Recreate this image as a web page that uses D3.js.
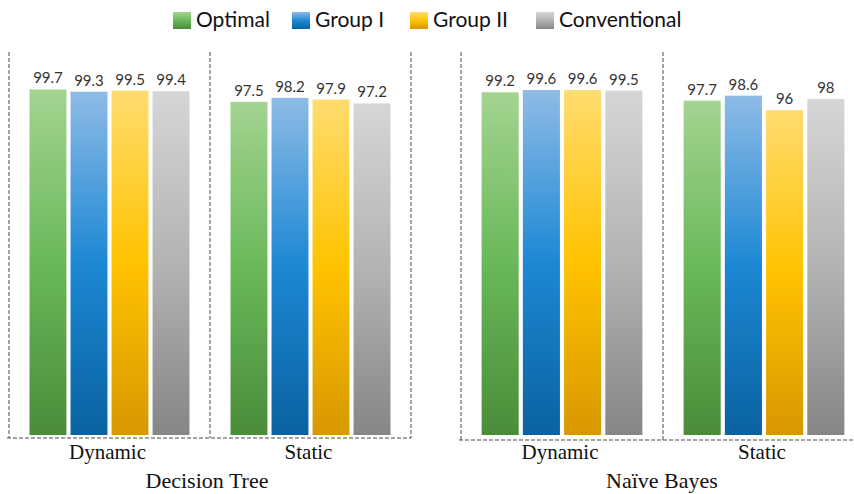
<!DOCTYPE html>
<html>
<head>
<meta charset="utf-8">
<script src="https://cdn.jsdelivr.net/npm/d3@7"></script>
<style>
  html, body { margin: 0; padding: 0; background: #fff; }
  svg { display: block; }
</style>
</head>
<body>
<svg id="chart" width="854" height="494"></svg>
<script>
// Accuracy (%) per classifier, analysis type and feature set
const classifiers = ["Decision Tree", "Naïve Bayes"];
const analyses = ["Dynamic", "Static"];
const seriesNames = ["Optimal", "Group I", "Group II", "Conventional"];

const decisionTreeDynamic = [99.7, 99.3, 99.5, 99.4];
const decisionTreeStatic = [97.5, 98.2, 97.9, 97.2];
const naiveBayesDynamic = [99.2, 99.6, 99.6, 99.5];
const naiveBayesStatic = [97.7, 98.6, 96, 98];

const valueLabels = [
  ["99.7", "99.3", "99.5", "99.4"],
  ["97.5", "98.2", "97.9", "97.2"],
  ["99.2", "99.6", "99.6", "99.5"],
  ["97.7", "98.6", "96", "98"]
];

const yMin = 38;
const yMax = 100;

// series colour stops: light top, saturated middle, dark bottom
const seriesColors = [
  ["#a3d491", "#6ab85a", "#4a8c3a"],
  ["#8ebbe6", "#1c88d4", "#0a62a0"],
  ["#ffdc70", "#ffc300", "#d89800"],
  ["#d6d6d6", "#b3b3b3", "#868686"]
];

const panelData = [
  [decisionTreeDynamic, decisionTreeStatic],
  [naiveBayesDynamic, naiveBayesStatic]
];

const svg = d3.select("#chart");
const defs = svg.append("defs");

seriesColors.forEach((c, i) => {
  const g = defs.append("linearGradient")
    .attr("id", "grad" + i)
    .attr("x1", 0).attr("y1", 0).attr("x2", 0).attr("y2", 1);
  g.append("stop").attr("offset", "0%").attr("stop-color", c[0]);
  g.append("stop").attr("offset", "50%").attr("stop-color", c[1]);
  g.append("stop").attr("offset", "100%").attr("stop-color", c[2]);
});

const baseY = 435;
const y = d3.scaleLinear().domain([yMin, yMax]).range([baseY, 87.8]);

const panelScale = d3.scaleOrdinal().domain(classifiers).range([[9, 411], [461, 865]]);
const frameBottom = { "Decision Tree": 438, "Naïve Bayes": 440 };
const frameTop = 52;

classifiers.forEach((clf, pi) => {
  const range = panelScale(clf);
  const gx = d3.scaleBand().domain(analyses).range(range).padding(0);
  const bx = d3.scaleBand().domain(seriesNames).range([0, gx.bandwidth()])
    .paddingInner(0.1).paddingOuter(0.5);
  const panel = svg.append("g");
  const fb = frameBottom[clf];

  // dashed frame: verticals at group boundaries plus the bottom edge
  const edges = [range[0], ...analyses.slice(1).map(a => gx(a)), range[1]];
  panel.selectAll("line.v").data(edges).join("line")
    .attr("x1", d => d).attr("x2", d => d)
    .attr("y1", frameTop).attr("y2", fb)
    .attr("stroke", "#4a4a4a").attr("stroke-width", 1)
    .attr("stroke-dasharray", "4,2");
  panel.append("line")
    .attr("x1", range[0] - 2).attr("x2", range[1])
    .attr("y1", fb).attr("y2", fb)
    .attr("stroke", "#4a4a4a").attr("stroke-width", 1)
    .attr("stroke-dasharray", "4,2");

  analyses.forEach((an, ai) => {
    const vals = panelData[pi][ai];
    const labels = valueLabels[pi * 2 + ai];
    const grp = panel.append("g").attr("transform", `translate(${gx(an)},0)`);
    grp.selectAll("rect").data(vals).join("rect")
      .attr("x", (d, i) => bx(seriesNames[i]))
      .attr("y", d => y(d))
      .attr("width", bx.bandwidth())
      .attr("height", d => baseY - y(d))
      .attr("fill", (d, i) => `url(#grad${i})`);
    grp.selectAll("text.val").data(vals).join("text")
      .attr("class", "val")
      .attr("x", (d, i) => bx(seriesNames[i]) + bx.bandwidth() / 2)
      .attr("y", d => y(d) - 6)
      .attr("text-anchor", "middle")
      .attr("font-family", "Lato, 'Open Sans', sans-serif")
      .attr("font-size", 15)
      .attr("fill", "#333")
      .text((d, i) => labels[i]);
    panel.append("text")
      .attr("x", gx(an) + gx.bandwidth() / 2 - 2)
      .attr("y", 459)
      .attr("text-anchor", "middle")
      .attr("font-family", "'Liberation Serif', 'Times New Roman', serif")
      .attr("font-size", 21)
      .attr("fill", "#111")
      .text(an);
  });

  panel.append("text")
    .attr("x", (range[0] + range[1]) / 2 - (pi === 1 ? 1 : 3))
    .attr("y", 488)
    .attr("text-anchor", "middle")
    .attr("font-family", "'Liberation Serif', 'Times New Roman', serif")
    .attr("font-size", 22)
    .attr("fill", "#111")
    .text(clf);
});

// legend
const legendX = [173, 292, 410, 536];
const legend = svg.append("g");
seriesNames.forEach((name, i) => {
  const it = legend.append("g").attr("transform", `translate(${legendX[i]},12)`);
  it.append("rect").attr("width", 18).attr("height", 17)
    .attr("fill", `url(#grad${i})`);
  it.append("text")
    .attr("x", 23).attr("y", 15)
    .attr("font-family", "Lato, 'Open Sans', sans-serif")
    .attr("font-size", 21)
    .attr("fill", "#111")
    .text(name);
});
</script>
</body>
</html>
